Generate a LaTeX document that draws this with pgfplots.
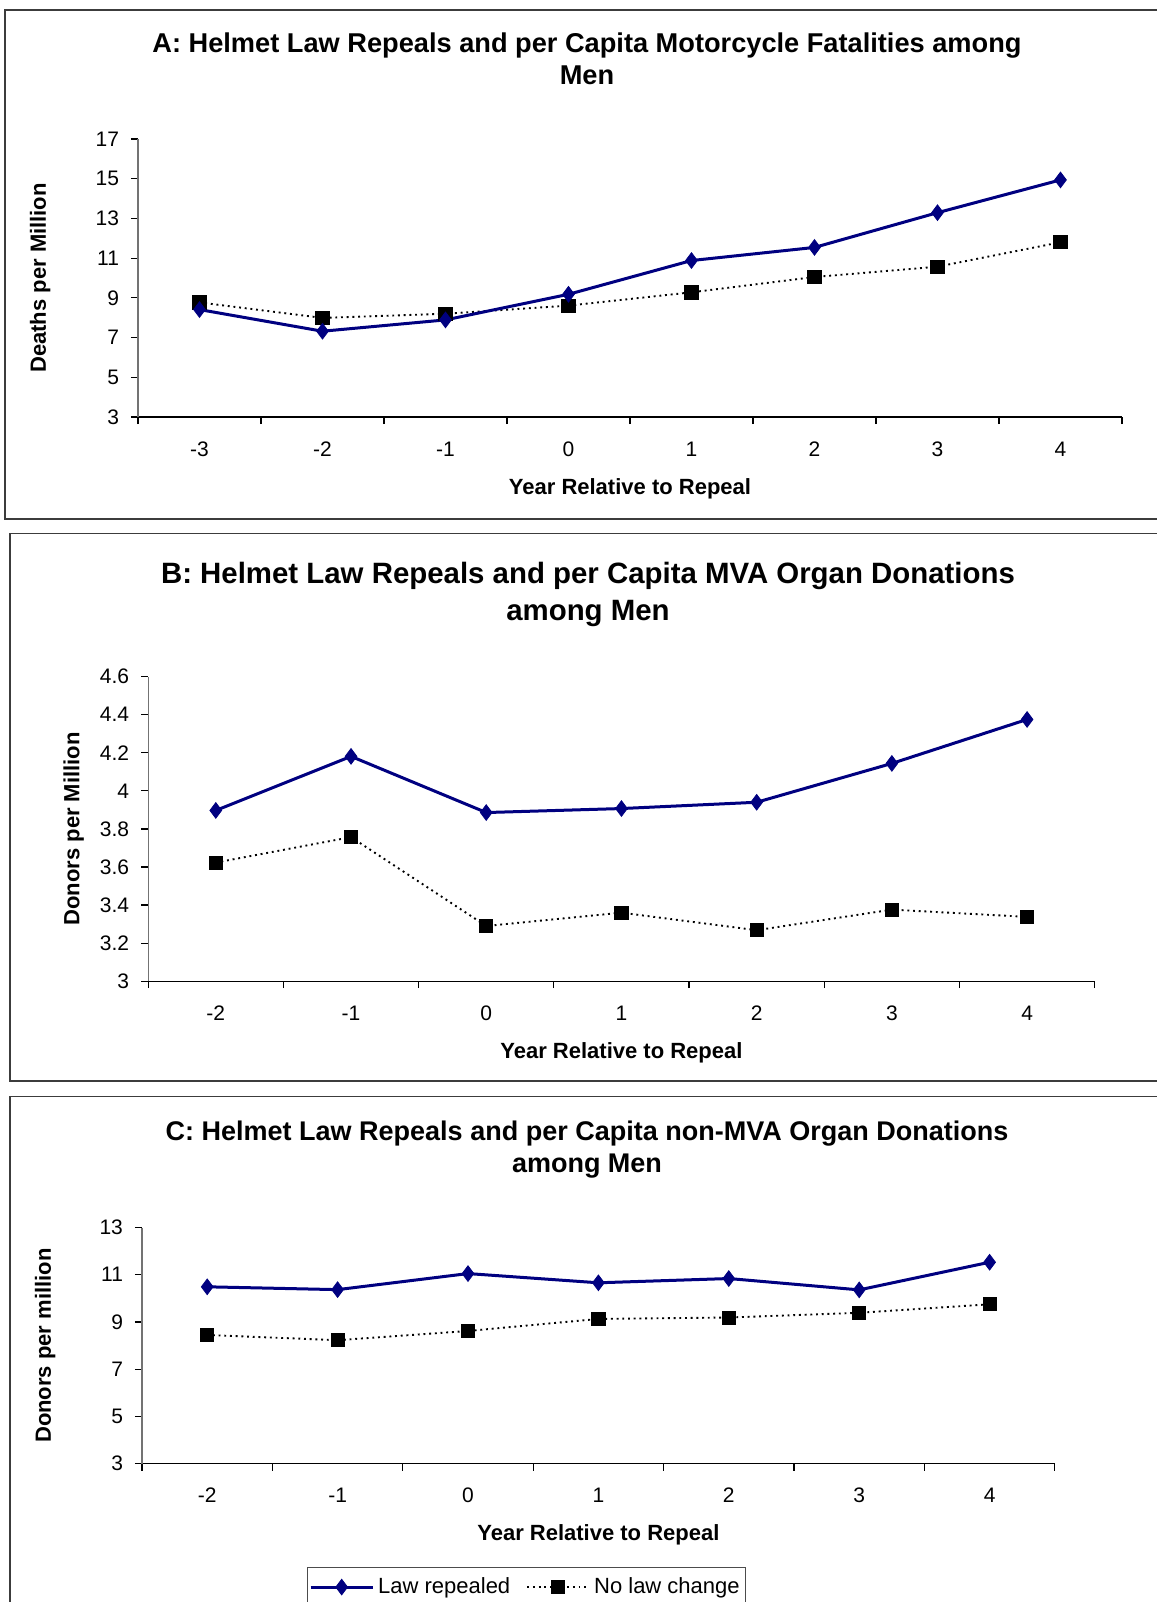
\documentclass[border=0pt]{standalone}
\usepackage{fontspec}
\setmainfont{Liberation Sans}
\usepackage{pgfplots}
\pgfplotsset{compat=1.18}
\definecolor{lawblue}{RGB}{0,0,128}
\definecolor{framegray}{RGB}{60,60,60}
\pgfplotsset{
  panel/.style={
    scale only axis,
    axis x line*=bottom,
    axis y line*=left,
    x axis line style={black,line width=0.6pt},
    y axis line style={black!55,line width=0.6pt},
    tick align=outside,
    major tick length=3.5pt,
    minor tick length=3.5pt,
    every tick/.style={black,line width=0.6pt},
    major x tick style={draw=none},
    /pgf/number format/assume math mode=true,
    tick label style={font=\fontsize{10.5}{12}\selectfont},
    xticklabel style={anchor=base,yshift=-16pt},
    yticklabel style={xshift=-2.5pt},
    label style={font=\fontsize{11}{13}\selectfont\bfseries},
    clip=false,
  },
  lawrep/.style={color=lawblue,line width=1.5pt,mark=diamond*,mark size=3.9pt,mark options={solid,fill=lawblue,line width=0.4pt}},
  nolaw/.style={color=black,line width=0.95pt,dash pattern=on 0.95pt off 1.9pt,mark=square*,mark size=3.3pt,mark options={solid,fill=black,line width=0.4pt}},
  legend image code/.code={\draw[mark repeat=2,mark phase=2,#1] plot coordinates {(0pt,0pt) (15.5pt,0pt) (31pt,0pt)};},
}
\begin{document}
\begin{tikzpicture}
\path[use as bounding box] (0pt,0pt) rectangle (578.5pt,-801pt);
% panel frames
\draw[framegray,line width=0.75pt] (585pt,-5.1pt) -- (2.55pt,-5.1pt) -- (2.55pt,-259.5pt) -- (585pt,-259.5pt);
\draw[framegray,line width=0.75pt] (585pt,-266.75pt) -- (5.1pt,-266.75pt) -- (5.1pt,-540.5pt) -- (585pt,-540.5pt);
\draw[framegray,line width=0.75pt] (585pt,-548.35pt) -- (5.1pt,-548.35pt) -- (5.1pt,-820pt);
% titles
\node[anchor=base,font=\fontsize{13.6}{15}\selectfont\bfseries,inner sep=0pt] at (293.5pt,-26.4pt) {A: Helmet Law Repeals and per Capita Motorcycle Fatalities among};
\node[anchor=base,font=\fontsize{13.6}{15}\selectfont\bfseries,inner sep=0pt] at (293.5pt,-42.2pt) {Men};
\node[anchor=base,font=\fontsize{14.7}{16}\selectfont\bfseries,inner sep=0pt] at (294pt,-291.5pt) {B: Helmet Law Repeals and per Capita MVA Organ Donations};
\node[anchor=base,font=\fontsize{14.7}{16}\selectfont\bfseries,inner sep=0pt] at (294pt,-310.3pt) {among Men};
\node[anchor=base,font=\fontsize{13.5}{15}\selectfont\bfseries,inner sep=0pt] at (293.5pt,-570.1pt) {C: Helmet Law Repeals and per Capita non-MVA Organ Donations};
\node[anchor=base,font=\fontsize{13.5}{15}\selectfont\bfseries,inner sep=0pt] at (293.5pt,-586.3pt) {among Men};

% Panel A
\begin{axis}[panel,
  at={(69pt,-208.5pt)}, anchor=south west,
  width=492pt, height=139pt,
  xmin=-3.5, xmax=4.5, ymin=3, ymax=17,
  xtick={-3,-2,-1,0,1,2,3,4},
  xticklabels={-3,-2,-1,0,1,2,3,4},
  minor xtick={-3.5,-2.5,-1.5,-0.5,0.5,1.5,2.5,3.5,4.5},
  ytick={3,5,7,9,11,13,15,17},
  xlabel={Year Relative to Repeal},
  ylabel={Deaths per Million},
  xlabel style={at={(axis description cs:0.5,0)},anchor=base,yshift=-38.7pt},
  ylabel style={at={(axis description cs:-0.0937,0.5)},anchor=base,rotate=0},
]
\addplot[nolaw] coordinates {(-3,8.77) (-2,7.99) (-1,8.20) (0,8.61) (1,9.28) (2,10.05) (3,10.57) (4,11.80)};
\addplot[lawrep] coordinates {(-3,8.41) (-2,7.32) (-1,7.89) (0,9.18) (1,10.88) (2,11.54) (3,13.29) (4,14.94)};
\end{axis}

% Panel B
\begin{axis}[panel,
  at={(74.1pt,-490.6pt)}, anchor=south west,
  width=473.25pt, height=152.3pt,
  xmin=-2.5, xmax=4.5, ymin=3, ymax=4.6,
  xtick={-2,-1,0,1,2,3,4},
  xticklabels={-2,-1,0,1,2,3,4},
  minor xtick={-2.5,-1.5,-0.5,0.5,1.5,2.5,3.5,4.5},
  ytick={3,3.2,3.4,3.6,3.8,4,4.2,4.4,4.6},
  yticklabel style={/pgf/number format/fixed,/pgf/number format/precision=1},
  xlabel={Year Relative to Repeal},
  ylabel={Donors per Million},
  xlabel style={at={(axis description cs:0.5,0)},anchor=base,yshift=-38.4pt},
  ylabel style={at={(axis description cs:-0.0727,0.5)},anchor=base,rotate=0},
]
\addplot[nolaw] coordinates {(-2,3.623) (-1,3.757) (0,3.290) (1,3.360) (2,3.268) (3,3.376) (4,3.338)};
\addplot[lawrep] coordinates {(-2,3.897) (-1,4.181) (0,3.886) (1,3.907) (2,3.940) (3,4.144) (4,4.375)};
\end{axis}

% Panel C
\begin{axis}[panel,
  at={(71pt,-731.85pt)}, anchor=south west,
  width=456.4pt, height=118.1pt,
  xmin=-2.5, xmax=4.5, ymin=3, ymax=13,
  xtick={-2,-1,0,1,2,3,4},
  xticklabels={-2,-1,0,1,2,3,4},
  minor xtick={-2.5,-1.5,-0.5,0.5,1.5,2.5,3.5,4.5},
  ytick={3,5,7,9,11,13},
  xlabel={Year Relative to Repeal},
  ylabel={Donors per million},
  xlabel style={at={(axis description cs:0.5,0)},anchor=base,yshift=-38.6pt},
  ylabel style={at={(axis description cs:-0.0997,0.5)},anchor=base,rotate=0},
  legend columns=2,
  legend style={at={(axis description cs:0.1803,-0.4373)},anchor=north west,
    draw=black!70,line width=0.6pt,fill=white,
    font=\fontsize{11}{13}\selectfont,
    inner xsep=1pt,inner ysep=3pt,
    /tikz/every even column/.append style={column sep=6pt}},
  legend cell align=left,
]
\addplot[lawrep] coordinates {(-2,10.49) (-1,10.37) (0,11.05) (1,10.66) (2,10.84) (3,10.36) (4,11.53)};
\addlegendentry{Law repealed}
\addplot[nolaw] coordinates {(-2,8.45) (-1,8.23) (0,8.62) (1,9.13) (2,9.19) (3,9.39) (4,9.75)};
\addlegendentry{No law change}
\end{axis}
\end{tikzpicture}
\end{document}
